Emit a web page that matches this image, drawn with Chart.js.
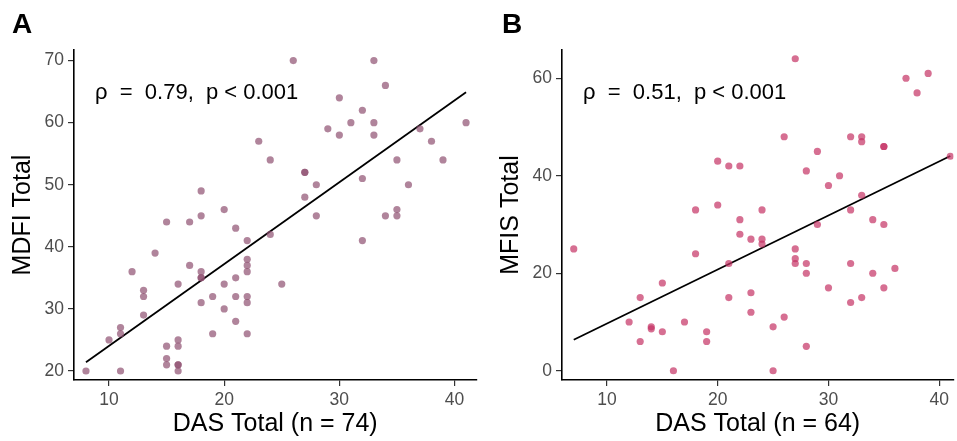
<!DOCTYPE html>
<html>
<head>
<meta charset="utf-8">
<script src="https://cdn.jsdelivr.net/npm/chart.js@4.4.1/dist/chart.umd.min.js"></script>
<style>
  html, body { margin: 0; padding: 0; background: #fff; }
  #wrap { position: relative; width: 957px; height: 441px; }
  .panel { position: absolute; top: 0; height: 441px; }
  #panelA { left: 0; width: 480px; }
  #panelB { left: 480px; width: 477px; }
</style>
</head>
<body>
<div id="wrap">
  <div class="panel" id="panelA"><canvas id="chartA"></canvas></div>
  <div class="panel" id="panelB"><canvas id="chartB"></canvas></div>
</div>
<script>
// Panel A: DAS vs MDFI (n = 74)
const dasA = [23, 24, 18, 20, 18, 15, 17, 26, 33, 34, 30, 32, 31, 33, 29, 30, 33, 41, 37, 38,
              35, 39, 27, 27, 28, 27, 32, 36, 28, 34, 35, 35, 21, 22, 24, 14, 12, 17, 18, 18,
              18, 16, 13, 13, 20, 21, 22, 22, 22, 19, 18, 21, 22, 22, 20, 21, 19, 22, 13, 11,
              11, 10, 15, 16, 16, 15, 15, 16, 16, 16, 8, 11, 32, 25];
const mdfiA = [57, 54, 49, 46, 45, 44, 44, 70, 70, 66, 64, 62, 60, 60, 59, 58, 58, 60, 59, 57,
               54, 54, 52, 52, 50, 48, 51, 50, 45, 45, 46, 45, 43, 41, 42, 39, 36, 37, 36, 35,
               35, 34, 33, 32, 34, 35, 38, 37, 36, 32, 31, 32, 32, 31, 30, 28, 26, 26, 29, 27,
               26, 25, 24, 25, 24, 22, 21, 21, 21, 20, 20, 20, 41, 34];

// Panel B: DAS vs MFIS (n = 64)
const dasB = [7, 20, 21, 22, 18, 20, 22, 27, 37, 39, 38, 26, 32, 33, 33, 35, 35, 29, 28, 31,
              30, 33, 24, 32, 34, 41, 22, 23, 18, 21, 23, 21, 23, 15, 13, 12, 14, 14, 15, 13,
              17, 19, 19, 16, 35, 29, 24, 24, 27, 27, 27, 28, 28, 32, 34, 36, 30, 35, 32, 33,
              26, 25, 28, 25];
const mfisB = [25, 43, 42, 42, 33, 34, 31, 64, 60, 61, 57, 48, 48, 48, 47, 46, 46, 45, 41, 40,
               38, 36, 33, 33, 31, 44, 28, 27, 24, 22, 16, 15, 12, 18, 15, 10, 9, 8.6, 8, 6,
               10, 8, 6, 0, 30, 30, 27, 26, 25, 23, 22, 22, 20, 22, 20, 21, 17, 17, 14, 15,
               11, 9, 5, 0];

// linear fits
const fitA = { slope: 1.318, intercept: 10.86 };
const fitB = { slope: 1.109, intercept: -1.41 };

const xTicks = [10, 20, 30, 40];
const yTicksA = [20, 30, 40, 50, 60, 70];
const yTicksB = [0, 20, 40, 60];

Chart.defaults.font.family = "'Liberation Sans', Arial, sans-serif";
Chart.defaults.color = '#4d4d4d';

function toPoints(xs, ys) {
    return xs.map((x, i) => ({ x: x, y: ys[i] }));
}

function fitLine(xs, fit) {
    const lo = Math.min(...xs), hi = Math.max(...xs);
    return [lo, hi].map(x => ({ x: x, y: fit.intercept + fit.slope * x }));
}

// panel letter and correlation text
const labelPlugin = {
    id: 'labels',
    afterDraw(chart, args, opts) {
        const ctx = chart.ctx;
        ctx.save();
        ctx.fillStyle = '#000';
        ctx.font = "bold 28px 'Liberation Sans', Arial, sans-serif";
        ctx.textBaseline = 'alphabetic';
        ctx.fillText(opts.tag, opts.tagX, 33);
        ctx.font = "22px 'Liberation Sans', Arial, sans-serif";
        ctx.textBaseline = 'middle';
        ctx.fillText(opts.stat, chart.chartArea.left + 21, 93);
        ctx.restore();
    }
};

function axis(min, max, ticks, title, fitSize, horizontal, titlePad) {
    return {
        type: 'linear',
        min: min,
        max: max,
        afterBuildTicks: s => { s.ticks = ticks.map(v => ({ value: v })); },
        afterFit: s => { if (horizontal) s.height = fitSize; else s.width = fitSize; },
        grid: { drawOnChartArea: false, drawTicks: true, tickLength: 6, color: '#333', lineWidth: 1.2 },
        border: { display: true, color: '#000', width: 1.6 },
        ticks: { color: '#4d4d4d', font: { size: 17.5 }, padding: 4 },
        title: { display: true, text: title, color: '#000', font: { size: 25 }, padding: titlePad }
    };
}

function createPanel(id, xs, ys, fit, color, cfg) {
    new Chart(document.getElementById(id), {
        data: {
            datasets: [{
                type: 'scatter',
                data: toPoints(xs, ys),
                backgroundColor: color,
                borderWidth: 0,
                pointRadius: 3.6,
                pointHoverRadius: 3.6
            }, {
                type: 'line',
                data: fitLine(xs, fit),
                borderColor: '#000',
                borderWidth: 1.8,
                pointRadius: 0,
                fill: false
            }]
        },
        options: {
            responsive: true,
            maintainAspectRatio: false,
            animation: false,
            layout: { padding: { top: 50, right: cfg.padRight, left: 0, bottom: 0 } },
            plugins: {
                legend: { display: false },
                tooltip: { enabled: false },
                labels: { tag: cfg.tag, tagX: cfg.tagX, stat: cfg.stat }
            },
            scales: {
                x: axis(cfg.xMin, cfg.xMax, xTicks, cfg.xTitle, 61, true, { top: 0, bottom: 2 }),
                y: axis(cfg.yMin, cfg.yMax, cfg.yTicks, cfg.yTitle, cfg.yWidth, false, { top: cfg.yTitlePad, bottom: 0 })
            }
        },
        plugins: [labelPlugin]
    });
}

createPanel('chartA', dasA, mdfiA, fitA, 'rgba(143, 80, 112, 0.7)', {
    tag: 'A', tagX: 12, stat: 'ρ  =  0.79,  p < 0.001',
    xMin: 6.96, xMax: 41.9, yMin: 18.55, yMax: 71.7, yTicks: yTicksA,
    xTitle: 'DAS Total (n = 74)', yTitle: 'MDFI Total', yWidth: 74, yTitlePad: 8, padRight: 3
});

createPanel('chartB', dasB, mfisB, fitB, 'rgba(196, 50, 100, 0.7)', {
    tag: 'B', tagX: 22, stat: 'ρ  =  0.51,  p < 0.001',
    xMin: 5.94, xMax: 41.28, yMin: -1.9, yMax: 65.8, yTicks: yTicksB,
    xTitle: 'DAS Total (n = 64)', yTitle: 'MFIS Total', yWidth: 82, yTitlePad: 16, padRight: 0
});
</script>
</body>
</html>
